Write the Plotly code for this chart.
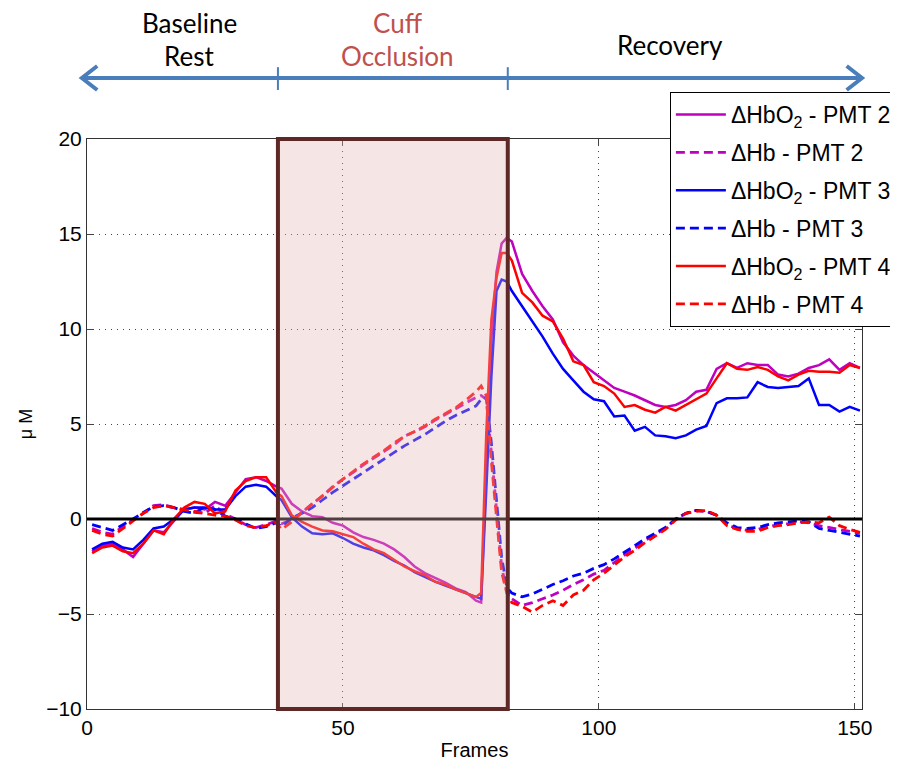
import plotly.graph_objects as go

# ---------------- data ----------------
frames = [1, 3, 5, 7, 9, 11, 13, 15, 17, 19, 21, 23, 25, 27, 29, 31, 33, 35, 37,
          38, 40, 42, 44, 46, 48, 50, 52, 54, 56, 58, 60, 62, 64, 66, 68, 70, 72, 74, 76,
          77, 78, 79, 80, 81, 82, 83,
          85, 87, 89, 91, 93, 95, 97, 99, 101, 103, 105, 107, 109, 111, 113, 115, 117,
          119, 121, 123, 125, 127, 129, 131, 133, 135, 137, 139, 141, 143, 145, 147, 149, 151]

hbo2_pmt2 = [-1.7, -1.4, -1.3, -1.6, -2.0, -1.3, -0.6, -0.7, -0.1, 0.5, 0.6, 0.5, 0.9, 0.7, 1.4, 2.1, 2.2, 2.0, 1.7,
             1.6, 0.8, 0.4, 0.15, 0.1, -0.2, -0.35, -0.7, -0.95, -1.1, -1.3, -1.6, -2.0, -2.5, -2.85, -3.1, -3.35, -3.65, -3.85, -4.3,
             -4.4, 2.5, 9.5, 13.0, 14.5, 14.8, 14.6,
             12.9, 12.0, 11.2, 10.5, 9.3, 8.6, 8.1, 7.7, 7.3, 6.9,
             6.7, 6.5, 6.25, 6.0, 5.9, 6.0, 6.25, 6.7, 6.8, 7.9,
             8.2, 7.95, 8.2, 8.1, 8.1, 7.6, 7.5, 7.65, 7.95, 8.1,
             8.4, 7.85, 8.2, 7.95]

hb_pmt2 = [-0.5, -0.7, -0.8, -0.4, -0.05, 0.3, 0.7, 0.75, 0.6, 0.45, 0.35, 0.3, 0.7, 0.25, 0.0, -0.3, -0.45, -0.3, -0.1,
           -0.25, -0.05, 0.35, 0.8, 1.2, 1.7, 2.1, 2.45, 2.85, 3.2, 3.55, 3.9, 4.35, 4.6, 4.85, 5.2, 5.5, 5.8, 6.1, 6.4,
           6.5, 6.3, 3.5, 0.5, -2.5, -3.8, -4.2,
           -4.55, -4.4, -4.2, -4.0, -3.75, -3.45, -3.2, -2.9, -2.7, -2.3,
           -1.9, -1.55, -1.15, -0.8, -0.5, 0.0, 0.3, 0.45, 0.4, 0.2,
           -0.3, -0.5, -0.6, -0.55, -0.4, -0.3, -0.25, -0.15, -0.2, -0.35,
           -0.45, -0.55, -0.65, -0.75]

hbo2_pmt3 = [-1.6, -1.3, -1.2, -1.5, -1.6, -1.1, -0.5, -0.4, 0.0, 0.5, 0.6, 0.6, 0.5, 0.5, 1.2, 1.7, 1.8, 1.7, 1.2,
             1.0, 0.1, -0.4, -0.75, -0.8, -0.75, -1.0, -1.3, -1.5, -1.65, -1.9, -2.2, -2.45, -2.8, -3.05, -3.3, -3.5, -3.7, -3.9, -4.1,
             -4.2, 1.5, 7.5, 12.0, 12.6, 12.5, 12.0,
             11.2, 10.4, 9.6, 8.7, 7.9, 7.3, 6.7, 6.3, 6.2, 5.4,
             5.45, 4.65, 4.85, 4.4, 4.35, 4.25, 4.4, 4.7, 4.9, 6.1,
             6.35, 6.35, 6.4, 7.2, 6.95, 6.9, 6.95, 7.0, 7.4, 6.0,
             6.0, 5.65, 5.9, 5.7]

hb_pmt3 = [-0.3, -0.45, -0.6, -0.3, 0.0, 0.35, 0.65, 0.7, 0.6, 0.4, 0.3, 0.65, 0.5, 0.15, 0.0, -0.25, -0.5, -0.4, -0.2,
           -0.4, 0.05, 0.3, 0.6, 1.0, 1.4, 1.75, 2.1, 2.45, 2.8, 3.15, 3.5, 3.85, 4.15, 4.45, 4.8, 5.15, 5.45, 5.7, 5.95,
           6.3, 6.4, 4.0, 1.0, -2.0, -3.6, -3.9,
           -4.1, -3.95, -3.7, -3.45, -3.25, -3.0, -2.85, -2.6, -2.4, -2.1,
           -1.75, -1.4, -1.05, -0.75, -0.45, 0.0, 0.3, 0.45, 0.4, 0.2,
           -0.2, -0.45, -0.5, -0.45, -0.3, -0.2, -0.15, -0.1, -0.15, -0.5,
           -0.6, -0.7, -0.8, -0.9]

hbo2_pmt4 = [-1.8, -1.5, -1.4, -1.7, -1.8, -1.3, -0.6, -0.8, 0.0, 0.6, 0.9, 0.8, 0.3, 0.4, 1.5, 2.0, 2.2, 2.2, 1.4,
             1.2, 0.2, -0.15, -0.4, -0.6, -0.65, -0.8, -0.95, -1.3, -1.6, -1.8, -2.15, -2.5, -2.75, -2.95, -3.3, -3.45, -3.7, -3.9, -4.1,
             -3.9, 4.5, 10.5, 12.7, 14.0, 14.0, 13.6,
             11.9, 11.4, 10.7, 10.4, 9.5, 8.3, 8.1, 7.2, 7.0, 6.6,
             5.9, 6.0, 5.75, 5.6, 5.9, 5.7, 6.0, 6.3, 6.6, 7.4,
             8.2, 7.9, 7.85, 8.0, 7.85, 7.5, 7.3, 7.6, 7.8, 7.75,
             7.75, 7.7, 8.1, 7.95]

hb_pmt4 = [-0.6, -0.8, -0.9, -0.5, -0.1, 0.3, 0.6, 0.7, 0.6, 0.5, 0.4, 0.3, 0.2, 0.15, -0.05, -0.35, -0.45, -0.35, -0.2,
           -0.55, -0.15, 0.35, 0.8, 1.2, 1.65, 2.1, 2.5, 2.9, 3.25, 3.6, 4.0, 4.35, 4.6, 4.9, 5.25, 5.55, 5.85, 6.25, 6.7,
           7.0, 6.5, 3.0, 0.0, -2.8, -3.9, -4.4,
           -4.6, -4.9, -4.55, -4.3, -4.55, -4.0, -3.75, -3.2, -2.85, -2.4,
           -2.0, -1.65, -1.25, -0.9, -0.55, -0.05, 0.3, 0.4, 0.45, 0.2,
           -0.35, -0.55, -0.65, -0.65, -0.45, -0.35, -0.3, -0.2, -0.15, -0.2,
           0.1, -0.35, -0.55, -0.7]

series_names = ["ΔHbO<sub>2</sub> - PMT 2", "ΔHb - PMT 2",
                "ΔHbO<sub>2</sub> - PMT 3", "ΔHb - PMT 3",
                "ΔHbO<sub>2</sub> - PMT 4", "ΔHb - PMT 4"]

occlusion_start = 37.3
occlusion_end = 82.2
x_range = [0, 151.4]
y_range = [-10, 20]
x_ticks = [0, 50, 100, 150]
y_ticks = [-10, -5, 0, 5, 10, 15, 20]
phase_labels = ["Baseline", "Rest", "Cuff", "Occlusion", "Recovery"]

# ---------------- figure ----------------
MAG = "#bf00bf"
BLUE = "#0000ff"
RED = "#ff0000"
DASH = "9px,5px"

series = [hbo2_pmt2, hb_pmt2, hbo2_pmt3, hb_pmt3, hbo2_pmt4, hb_pmt4]
colors = [MAG, MAG, BLUE, BLUE, RED, RED]
dashes = ["solid", DASH, "solid", DASH, "solid", DASH]
widths = [2.5, 2.8, 2.5, 2.8, 2.5, 2.8]

fig = go.Figure()
for i, (vals, col, dsh, w, name) in enumerate(zip(series, colors, dashes, widths, series_names)):
    fig.add_trace(go.Scatter(
        x=frames, y=vals, mode="lines", name=name,
        line=dict(color=col, width=w, dash=dsh),
        legendgroup=str(i),
    ))

def px(f):
    return (f - x_range[0]) / (x_range[1] - x_range[0])

shapes = []
# zero line
shapes.append(dict(type="line", xref="paper", yref="y", x0=0, x1=1, y0=0, y1=0,
                   line=dict(color="black", width=3), layer="above"))
# occlusion box
shapes.append(dict(type="rect", xref="x", yref="paper", x0=occlusion_start, x1=occlusion_end,
                   y0=0, y1=1, fillcolor="rgba(228,180,180,0.35)",
                   line=dict(color="#5e2826", width=4), layer="above"))

# timeline arrow above plot
ARROW = "#4a7ebb"
ya = 1.107
x_left = px(-1.0)
x_right = px(151.4)
shapes.append(dict(type="line", xref="paper", yref="paper", x0=x_left + 0.003, x1=x_right - 0.003,
                   y0=ya, y1=ya, line=dict(color=ARROW, width=4)))
for xb in (occlusion_start, occlusion_end):
    shapes.append(dict(type="line", xref="paper", yref="paper", x0=px(xb), x1=px(xb),
                       y0=ya - 0.021, y1=ya + 0.019, line=dict(color=ARROW, width=2)))
ah_dx = px(3.0) - px(0)
ah_dy = 0.021
shapes.append(dict(type="path", xref="paper", yref="paper",
                   path=f"M {x_left+ah_dx},{ya+ah_dy} L {x_left},{ya} L {x_left+ah_dx},{ya-ah_dy}",
                   line=dict(color=ARROW, width=4)))
shapes.append(dict(type="path", xref="paper", yref="paper",
                   path=f"M {x_right-ah_dx},{ya+ah_dy} L {x_right},{ya} L {x_right-ah_dx},{ya-ah_dy}",
                   line=dict(color=ARROW, width=4)))

TFONT = "Lato, Open Sans, sans-serif"
annotations = [
    dict(text=phase_labels[0], x=px(20.0), y=1.203),
    dict(text=phase_labels[1], x=px(20.0), y=1.146),
    dict(text=phase_labels[2], x=px(60.7), y=1.203, color="#c0504d"),
    dict(text=phase_labels[3], x=px(60.7), y=1.146, color="#c0504d"),
    dict(text=phase_labels[4], x=px(113.9), y=1.165),
]
ann_objs = []
for a in annotations:
    ann_objs.append(dict(text=a["text"], x=a["x"], y=a["y"], xref="paper", yref="paper",
                         showarrow=False, xanchor="center", yanchor="middle",
                         font=dict(family=TFONT, size=26, color=a.get("color", "black"))))

AFONT = "Arial, Liberation Sans, sans-serif"
fig.update_layout(
    width=890, height=763,
    margin=dict(l=79, r=36, t=131, b=62, autoexpand=False),
    paper_bgcolor="white", plot_bgcolor="white",
    shapes=shapes, annotations=ann_objs,
    showlegend=True,
    legend=dict(x=1.045, y=1.0825, xanchor="right", yanchor="top",
                bgcolor="white", bordercolor="black", borderwidth=1,
                font=dict(family=AFONT, size=23, color="black"),
                traceorder="grouped", tracegroupgap=5, itemwidth=50),
    font=dict(family=AFONT, color="black"),
)
fig.update_xaxes(range=x_range, tickvals=x_ticks, ticks="inside", ticklen=6, mirror="ticks",
                 showline=True, linecolor="#333", linewidth=1, automargin=False,
                 showgrid=True, gridcolor="#444", gridwidth=1, griddash="1px,5px",
                 zeroline=False, tickfont=dict(size=21, family=AFONT),
                 title=dict(text="Frames", font=dict(size=20, family=AFONT), standoff=4))
fig.update_yaxes(range=y_range, tickvals=y_ticks, ticks="inside", ticklen=6, mirror="ticks",
                 showline=True, linecolor="#333", linewidth=1, automargin=False,
                 showgrid=True, gridcolor="#444", gridwidth=1, griddash="1px,5px",
                 zeroline=False, tickfont=dict(size=21, family=AFONT),
                 title=dict(text="μ M", font=dict(size=18, family=AFONT), standoff=8))

fig.write_html("out.html")
